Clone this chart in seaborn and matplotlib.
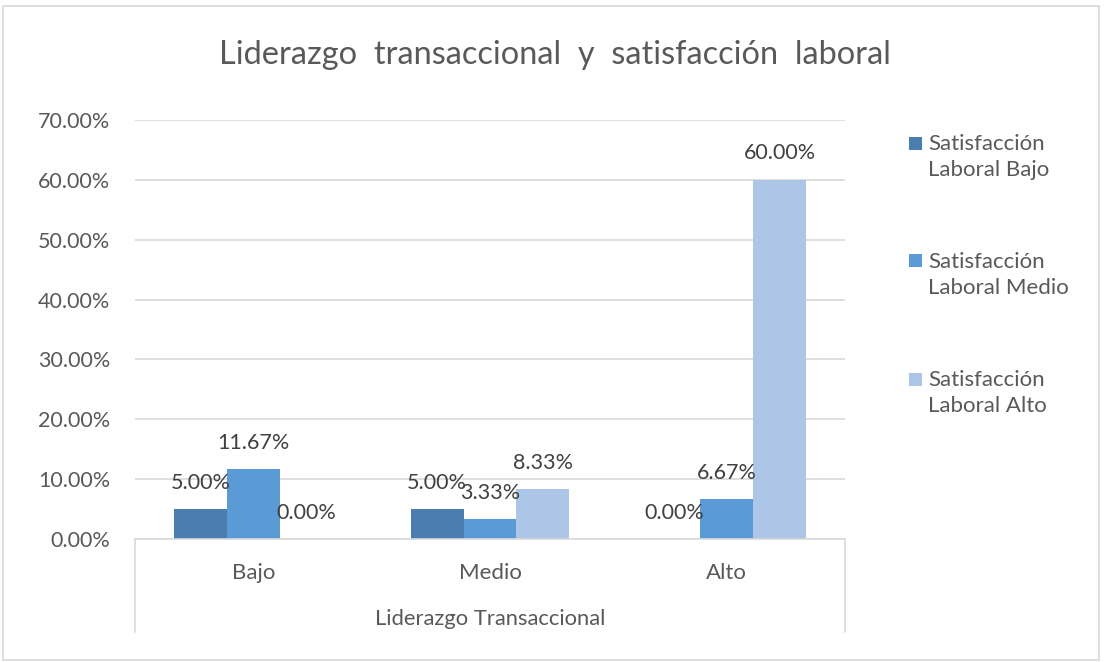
import matplotlib
matplotlib.use("Agg")
import matplotlib.pyplot as plt
import seaborn as sns
import pandas as pd
from matplotlib.lines import Line2D
from matplotlib.patches import Rectangle

categories = ["Bajo", "Medio", "Alto"]
series_names = ["Satisfacción Laboral Bajo", "Satisfacción Laboral Medio", "Satisfacción Laboral Alto"]
legend_labels = ["Satisfacción\nLaboral Bajo", "Satisfacción\nLaboral Medio", "Satisfacción\nLaboral Alto"]
sat_bajo = [5.00, 5.00, 0.00]
sat_medio = [11.67, 3.33, 6.67]
sat_alto = [0.00, 8.33, 60.00]
y_ticks = [0, 10, 20, 30, 40, 50, 60, 70]
title = "Liderazgo  transaccional  y  satisfacción  laboral"
x_title = "Liderazgo Transaccional"

colors = ["#4A7EB0", "#5B9BD5", "#ADC5E6"]
txt = "#595959"

rows = []
for name, vals in zip(series_names, [sat_bajo, sat_medio, sat_alto]):
    for c, v in zip(categories, vals):
        rows.append({"cat": c, "serie": name, "val": v})
df = pd.DataFrame(rows)

sns.set_style("white")
plt.rcParams["font.family"] = ["Lato", "DejaVu Sans"]

fig = plt.figure(figsize=(11.04, 6.62), dpi=100)
ax = fig.add_axes([135/1104, 1-539/662, 710/1104, 419/662])

sns.barplot(data=df, x="cat", y="val", hue="serie", order=categories,
            hue_order=series_names, palette=colors, width=0.67,
            saturation=1, linewidth=0, ax=ax, legend=False)

ax.set_ylim(0, 70)
ax.set_yticks(y_ticks)
ax.set_yticklabels([f"{t:.2f}%" for t in y_ticks])
ax.yaxis.grid(True, color="#D9D9D9", linewidth=1.2)
ax.set_axisbelow(True)
for s in ["top", "right", "left"]:
    ax.spines[s].set_visible(False)
ax.spines["bottom"].set_color("#D9D9D9")
ax.spines["bottom"].set_linewidth(1.2)
ax.tick_params(axis="both", length=0, colors=txt)
ax.tick_params(axis="y", labelsize=15.5, pad=18)
ax.tick_params(axis="x", labelsize=16, pad=17)
ax.set_xlabel(x_title, fontsize=15.8, color=txt, labelpad=19)
ax.set_ylabel("")

# category box lines
for xpos in (0, 1):
    ax.add_line(Line2D([xpos, xpos], [0, -93/419], transform=ax.transAxes,
                       color="#D9D9D9", linewidth=1.2, clip_on=False))

# data labels
for cont in ax.containers:
    for bar in cont:
        h = bar.get_height()
        ax.annotate(f"{h:.2f}%", (bar.get_x() + bar.get_width()/2, h),
                    xytext=(0, 19), textcoords="offset points",
                    ha="center", va="center", fontsize=15.5, color="#404040")

# legend (square aligned to first line of each two-line label)
leg_y = [157, 275, 393]
for col, lab, yy in zip(colors, legend_labels, leg_y):
    fig.patches.append(Rectangle((909/1104, 1-(yy-14+6.5)/662), 13/1104, 13/662,
                                 transform=fig.transFigure, facecolor=col, edgecolor="none"))
    fig.text(928/1104, 1-yy/662, lab, ha="left", va="center", fontsize=16,
             color=txt, linespacing=1.4)

fig.text(555/1104, 1-55/662, title, ha="center", va="center", fontsize=23.4, color=txt)

# chart border
fig.patches.append(Rectangle((3/1104, 2/662), 1096/1104, 654/662, transform=fig.transFigure,
                             fill=False, edgecolor="#D9D9D9", linewidth=1.2))

fig.savefig("out.png", dpi=100)
